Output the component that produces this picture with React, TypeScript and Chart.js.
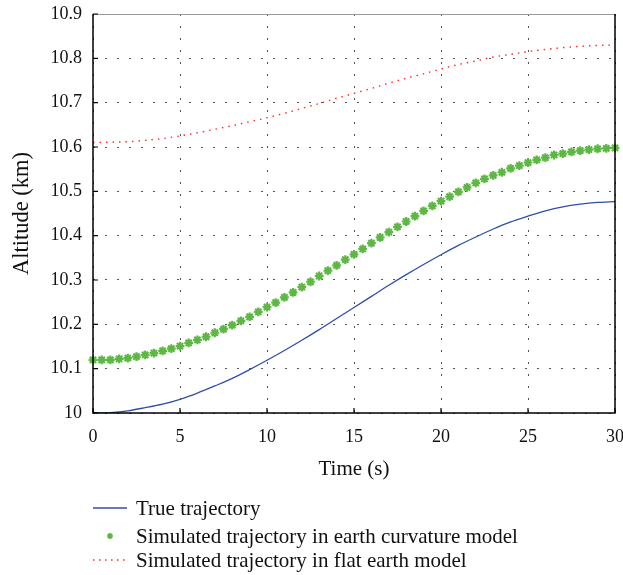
import { useEffect, useRef } from 'react';
import { Chart, registerables } from 'chart.js';

Chart.register(...registerables);

// Axis ticks
const xTicks = [0, 5, 10, 15, 20, 25, 30];
const yTicks = [10, 10.1, 10.2, 10.3, 10.4, 10.5, 10.6, 10.7, 10.8, 10.9];
const yTickLabels = ['10', '10.1', '10.2', '10.3', '10.4', '10.5', '10.6', '10.7', '10.8', '10.9'];

// Time samples (s)
const timeCoarse = [
  0, 1, 2, 3, 4, 5, 6, 7, 8, 9, 10, 11, 12, 13, 14, 15,
  16, 17, 18, 19, 20, 21, 22, 23, 24, 25, 26, 27, 28, 29, 30,
];
const timeFine = [
  0, 0.5, 1, 1.5, 2, 2.5, 3, 3.5, 4, 4.5, 5, 5.5, 6, 6.5, 7, 7.5, 8, 8.5, 9, 9.5,
  10, 10.5, 11, 11.5, 12, 12.5, 13, 13.5, 14, 14.5, 15, 15.5, 16, 16.5, 17, 17.5,
  18, 18.5, 19, 19.5, 20, 20.5, 21, 21.5, 22, 22.5, 23, 23.5, 24, 24.5, 25, 25.5,
  26, 26.5, 27, 27.5, 28, 28.5, 29, 29.5, 30,
];

// Altitude (km)
const trueAltitude = [
  10.0, 10.001, 10.005, 10.012, 10.02, 10.031, 10.045, 10.061, 10.078, 10.098, 10.119,
  10.141, 10.164, 10.188, 10.213, 10.238, 10.263, 10.288, 10.312, 10.335, 10.357,
  10.378, 10.397, 10.415, 10.431, 10.444, 10.456, 10.465, 10.471, 10.475, 10.477,
];
const curvatureAltitude = [
  10.12, 10.12, 10.12, 10.122, 10.124, 10.127, 10.131, 10.135, 10.14, 10.145,
  10.151, 10.158, 10.165, 10.172, 10.181, 10.189, 10.198, 10.208, 10.217, 10.228,
  10.239, 10.249, 10.261, 10.272, 10.284, 10.296, 10.309, 10.321, 10.333, 10.346,
  10.358, 10.37, 10.383, 10.396, 10.408, 10.42, 10.432, 10.444, 10.456, 10.467,
  10.478, 10.488, 10.499, 10.509, 10.519, 10.528, 10.536, 10.543, 10.552, 10.558,
  10.565, 10.571, 10.576, 10.582, 10.585, 10.589, 10.592, 10.594, 10.596, 10.597, 10.598,
];
const flatAltitude = [
  10.61, 10.611, 10.612, 10.615, 10.619, 10.625, 10.632, 10.64, 10.648, 10.657, 10.666,
  10.676, 10.687, 10.698, 10.71, 10.721, 10.732, 10.744, 10.755, 10.765, 10.776,
  10.786, 10.794, 10.803, 10.809, 10.815, 10.82, 10.824, 10.827, 10.829, 10.83,
];

const seriesNames = [
  'True trajectory',
  'Simulated trajectory in earth curvature model',
  'Simulated trajectory in flat earth model',
];

const SERIF = "'Liberation Serif', 'DejaVu Serif', serif";
const BLUE = '#2f4fa8';
const GREEN = '#5cb843';
const RED = '#ff2a2a';

function drawAsterisk(ctx: CanvasRenderingContext2D, x: number, y: number, r: number) {
  ctx.beginPath();
  const d = r * Math.SQRT1_2;
  ctx.moveTo(x - r, y); ctx.lineTo(x + r, y);
  ctx.moveTo(x, y - r); ctx.lineTo(x, y + r);
  ctx.moveTo(x - d, y - d); ctx.lineTo(x + d, y + d);
  ctx.moveTo(x - d, y + d); ctx.lineTo(x + d, y - d);
  ctx.stroke();
}

// Axes box, inward tick marks and the legend underneath the plot
const framePlugin = {
  id: 'frame',
  afterDatasetsDraw(chart: any) {
    const { ctx, chartArea, scales } = chart;
    const { left, right, top, bottom } = chartArea;
    ctx.save();
    ctx.strokeStyle = '#9a9a9a';
    ctx.lineWidth = 1;
    ctx.beginPath();
    ctx.moveTo(left, top + 0.5);
    ctx.lineTo(right, top + 0.5);
    ctx.stroke();

    ctx.strokeStyle = '#000';
    ctx.lineWidth = 1.5;
    ctx.beginPath();
    ctx.moveTo(left, top);
    ctx.lineTo(left, bottom);
    ctx.lineTo(right, bottom);
    ctx.lineTo(right, top);
    ctx.stroke();

    ctx.lineWidth = 1.2;
    ctx.beginPath();
    for (const v of xTicks) {
      const x = scales.x.getPixelForValue(v);
      ctx.moveTo(x, bottom);
      ctx.lineTo(x, bottom - 5);
    }
    for (const v of yTicks) {
      const y = scales.y.getPixelForValue(v);
      ctx.moveTo(left, y);
      ctx.lineTo(left + 5, y);
    }
    ctx.stroke();
    ctx.restore();
  },
  afterDraw(chart: any) {
    const { ctx } = chart;
    const sx0 = 93;
    const sx1 = 127;
    const tx = 136;
    const rows = [508, 536, 560];
    ctx.save();
    ctx.font = `21px ${SERIF}`;
    ctx.fillStyle = '#111';
    ctx.textBaseline = 'middle';
    ctx.textAlign = 'left';

    // true trajectory sample
    ctx.strokeStyle = BLUE;
    ctx.lineWidth = 1.3;
    ctx.beginPath();
    ctx.moveTo(sx0, rows[0]);
    ctx.lineTo(sx1, rows[0]);
    ctx.stroke();

    // curvature model sample
    ctx.strokeStyle = GREEN;
    ctx.lineWidth = 1.6;
    drawAsterisk(ctx, 110, rows[1], 3);

    // flat earth sample
    ctx.strokeStyle = RED;
    ctx.lineWidth = 1.3;
    ctx.setLineDash([1.5, 4.5]);
    ctx.beginPath();
    ctx.moveTo(sx0, rows[2]);
    ctx.lineTo(sx1, rows[2]);
    ctx.stroke();
    ctx.setLineDash([]);

    seriesNames.forEach((name, i) => {
      ctx.fillText(name, tx, rows[i] + 1);
    });
    ctx.restore();
  },
};

export default function App() {
  const canvasRef = useRef<HTMLCanvasElement | null>(null);

  useEffect(() => {
    const canvas = canvasRef.current;
    if (!canvas) return;

    const chart = new Chart(canvas, {
      type: 'line',
      data: {
        datasets: [
          {
            label: seriesNames[0],
            data: timeCoarse.map((t, i) => ({ x: t, y: trueAltitude[i] })),
            borderColor: BLUE,
            borderWidth: 1.3,
            pointRadius: 0,
            cubicInterpolationMode: 'monotone',
            fill: false,
          },
          {
            label: seriesNames[1],
            data: timeFine.map((t, i) => ({ x: t, y: curvatureAltitude[i] })),
            showLine: false,
            pointStyle: 'star',
            pointRadius: 4.4,
            pointBorderWidth: 2.2,
            pointBorderColor: GREEN,
            pointBackgroundColor: GREEN,
            borderColor: GREEN,
            clip: false,
          },
          {
            label: seriesNames[2],
            data: timeCoarse.map((t, i) => ({ x: t, y: flatAltitude[i] })),
            borderColor: RED,
            borderWidth: 1.4,
            borderDash: [1.5, 5],
            pointRadius: 0,
            cubicInterpolationMode: 'monotone',
            fill: false,
          },
        ],
      },
      options: {
        responsive: false,
        animation: false,
        layout: { padding: { left: 9, right: 8, top: 14, bottom: 93 } },
        plugins: {
          legend: { display: false },
          tooltip: { enabled: false },
        },
        scales: {
          x: {
            type: 'linear',
            min: 0,
            max: 30,
            afterBuildTicks: (scale: any) => {
              scale.ticks = xTicks.map((v) => ({ value: v }));
            },
            afterFit: (scale: any) => {
              scale.height = 69;
              scale.paddingLeft = 0;
              scale.paddingRight = 0;
            },
            ticks: {
              font: { family: SERIF, size: 18 },
              color: '#111',
              padding: 13,
              maxRotation: 0,
              callback: (v: any) => String(v),
            },
            grid: {
              color: '#555',
              lineWidth: 1,
              drawTicks: false,
            },
            border: { display: false, dash: [2, 10] },
            title: {
              display: true,
              text: 'Time (s)',
              font: { family: SERIF, size: 21 },
              color: '#111',
              padding: { top: 0, bottom: 0 },
            },
          },
          y: {
            type: 'linear',
            min: 10,
            max: 10.9,
            afterBuildTicks: (scale: any) => {
              scale.ticks = yTicks.map((v) => ({ value: v }));
            },
            afterFit: (scale: any) => {
              scale.width = 84;
              scale.paddingTop = 0;
              scale.paddingBottom = 0;
            },
            ticks: {
              font: { family: SERIF, size: 18 },
              color: '#111',
              padding: 11,
              callback: (_v: any, i: number) => yTickLabels[i],
            },
            grid: {
              color: '#555',
              lineWidth: 1,
              drawTicks: false,
            },
            border: { display: false, dash: [2, 10] },
            title: {
              display: true,
              text: 'Altitude (km)',
              font: { family: SERIF, size: 22.5 },
              color: '#111',
              padding: { top: 0, bottom: 0 },
            },
          },
        },
      },
      plugins: [framePlugin],
    });

    return () => chart.destroy();
  }, []);

  return (
    <div style={{ position: 'absolute', left: 0, top: 0, width: 623, height: 575, background: '#fff' }}>
      <canvas ref={canvasRef} width={623} height={575} style={{ display: 'block' }} />
    </div>
  );
}
